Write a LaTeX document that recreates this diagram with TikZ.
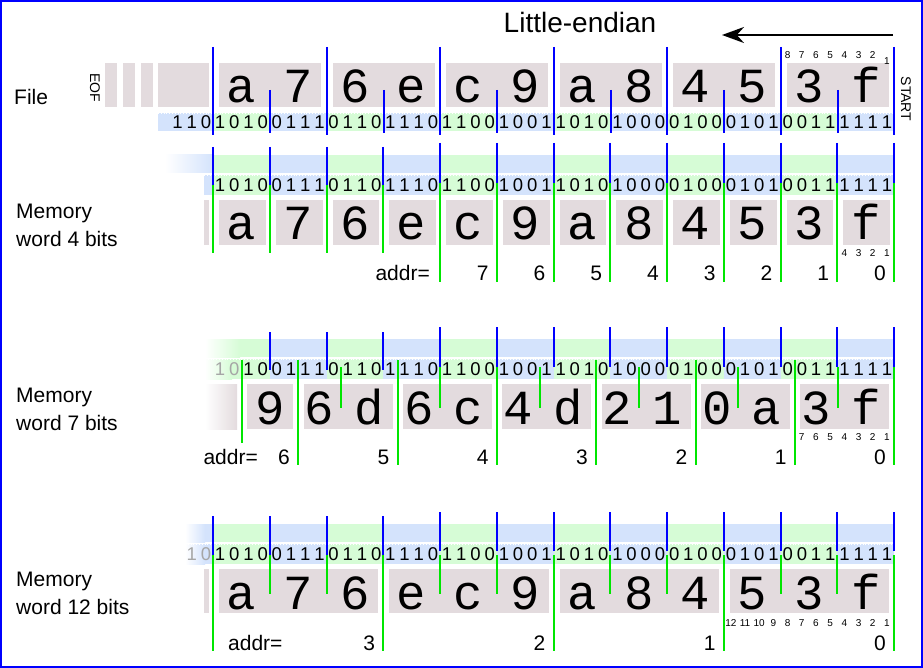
\documentclass[tikz,border=0pt]{standalone}
\usepackage{fontspec}
\setmainfont{Liberation Sans}
\newfontfamily\hexfont{Liberation Mono}
\usetikzlibrary{arrows.meta}

\definecolor{bitblue}{RGB}{212,227,252}
\definecolor{bitgreen}{RGB}{214,252,214}
\definecolor{boxgrey}{RGB}{227,219,222}
\definecolor{linblue}{RGB}{0,0,255}
\definecolor{lingreen}{RGB}{0,230,0}

\def\bitlist{1,0,1,0,0,1,1,1,0,1,1,0,1,1,1,0,1,1,0,0,1,0,0,1,1,0,1,0,1,0,0,0,0,1,0,0,0,1,0,1,0,0,1,1,1,1,1,1}
\def\hexlist{a,7,6,e,c,9,a,8,4,5,3,f}

\tikzset{
  hexdigit/.style={font=\hexfont\fontsize{49}{49}\selectfont, anchor=base, inner sep=0pt},
  bitnum/.style={font=\fontsize{18.5}{18.5}\selectfont, inner sep=0pt},
  smallnum/.style={font=\fontsize{10}{10}\selectfont, inner sep=0pt},
  rowlabel/.style={font=\fontsize{21}{28}\selectfont, align=left, anchor=west, inner sep=0pt},
  addrtext/.style={font=\fontsize{21}{21}\selectfont, inner sep=0pt},
  byteline/.style={linblue, line width=2pt},
  memline/.style={lingreen, line width=2pt}
}

% nibble coloured strips of a memory row
\newcommand{\memstrips}[1]{%
  \foreach \n in {0,...,11}{%
    \ifodd\n\relax\def\nc{bitblue}\else\def\nc{bitgreen}\fi
    \fill[\nc] ({213+56.76*\n},#1) rectangle ({213+56.76*(\n+1)},#1+18);
    \fill[\nc] ({213+56.76*\n},#1+20) rectangle ({213+56.76*(\n+1)},#1+40);
  }%
}
% the bits of a row, the first #2 ones greyed
\newcommand{\membits}[3]{%
  \foreach \b [count=\i from 0] in \bitlist{%
    \ifnum\i<#2\relax\def\bc{black!35}\else\def\bc{black}\fi
    \node[bitnum, text=\bc] (#3\i) at ({213+14.19*(\i+0.5)},#1) {\b};
  }%
}

\begin{document}
\begin{tikzpicture}[x=1pt,y=-1pt]
  \useasboundingbox (0,0) rectangle (923,668);
  \draw[linblue, line width=2pt] (1,1) rectangle (922,667);

  % title
  \node[font=\fontsize{28}{28}\selectfont] (title) at (580,22) {Little-endian};
  \coordinate (arrS) at (893,35);
  \coordinate (arrE) at (722,35);
  \draw[-{Stealth[length=22pt,width=16pt]}, line width=1.8pt] (arrS) -- (arrE);

  % file
  \node[rowlabel] (lblfile) at (14,97) {File};
  \node[rotate=-90, font=\fontsize{14}{14}\selectfont, inner sep=0pt] (eof) at (95,88) {EOF};
  \node[rotate=-90, font=\fontsize{14}{14}\selectfont, inner sep=0pt] (start) at (906,99) {START};
  \foreach \xa/\xb in {105/117,123/135,141/153,158/209}
    \fill[boxgrey] (\xa,63) rectangle (\xb,107);
  \foreach \k in {0,...,5}
    \fill[boxgrey] ({213+113.5*\k+6},63) rectangle ({213+113.5*\k+108},107);
  \fill[bitblue] (158,113) rectangle (213,131);
  \foreach \n in {0,...,11}{
    \ifodd\n\relax\def\nc{bitblue}\else\def\nc{bitgreen}\fi
    \fill[\nc] ({213+56.76*\n},113) rectangle ({213+56.76*(\n+1)},131);
  }
  \draw[white, dotted, line width=0.8pt] (158,113) -- (894,113);
  \foreach \b [count=\i from 1] in {0,1,1}
    \node[bitnum] (fx\i) at ({213-14.19*(\i-0.5)},122) {\b};
  \foreach \b [count=\i from 0] in \bitlist
    \node[bitnum] (fb\i) at ({213+14.19*(\i+0.5)},122) {\b};
  \foreach \h [count=\n from 0] in \hexlist
    \node[hexdigit] (fh\n) at ({213+56.76*(\n+0.5)},103) {\h};
  \foreach \k in {0,...,6}
    \draw[byteline] ({213+113.5*\k},47) -- ({213+113.5*\k},135);
  \foreach \k in {0,...,5}
    \draw[byteline] ({270+113.5*\k},90) -- ({270+113.5*\k},133);
  \foreach \j in {2,...,8}
    \node[smallnum] (ft\j) at ({894-14.19*(\j-0.5)},55) {\j};
  \node[smallnum] (ft1) at (887,61) {1};

  % memory word 4 bits
  \node[rowlabel] (lblm4) at (16,225) {Memory\\word 4 bits};
  \shade[left color=white, right color=bitblue] (165,155) rectangle (213,173);
  \fill[bitblue] (204,175) rectangle (213,195);
  \memstrips{155}
  \draw[white, dotted, line width=0.8pt] (204,175) -- (894,175);
  \membits{185}{0}{mfb}
  \fill[boxgrey] (204,200) rectangle (209,245);
  \foreach \n in {0,...,11}
    \fill[boxgrey] ({213+56.76*\n+6},200) rectangle ({213+56.76*(\n+1)-4},245);
  \foreach \h [count=\n from 0] in \hexlist
    \node[hexdigit] (mfh\n) at ({213+56.76*(\n+0.5)},240) {\h};
  \foreach \n in {0,...,3}{
    \draw[memline] ({213+56.76*\n},185) -- ({213+56.76*\n},253);
    \draw[byteline] ({213+56.76*\n},147) -- ({213+56.76*\n},185);
  }
  \foreach \n in {4,...,12}{
    \draw[memline] ({213+56.76*\n},183) -- ({213+56.76*\n},282);
    \draw[byteline] ({213+56.76*\n},143) -- ({213+56.76*\n},183);
  }
  \foreach \j in {1,...,4}
    \node[smallnum] (mft\j) at ({894-14.19*(\j-0.5)},253) {\j};
  \node[addrtext, anchor=east] (mfaddr) at (430,273) {addr=};
  \foreach \w in {0,...,7}
    \node[addrtext] (mfa\w) at ({880-56.76*\w},273) {\w};

  % memory word 7 bits
  \node[rowlabel] (lblm7) at (16,409) {Memory\\word 7 bits};
  \memstrips{339}
  \shade[left color=white, right color=bitgreen] (205,339) rectangle (240,357);
  \shade[left color=white, right color=bitgreen] (205,359) rectangle (232,379);
  \draw[white, dotted, line width=0.8pt] (205,359) -- (894,359);
  \membits{369}{2}{msb}
  \shade[left color=white, right color=boxgrey] (205,384) rectangle (237,429);
  \fill[boxgrey] (247,384) rectangle (293,429);
  \foreach \j in {0,...,5}
    \fill[boxgrey] ({298.33+99.33*\j+5.5},384) rectangle ({298.33+99.33*(\j+1)-5},429);
  \node[hexdigit] (msh6) at (270,424) {9};
  \foreach \hi/\lo [count=\j from 0] in {6/d,6/c,4/d,2/1,0/a,3/f}{
    \node[hexdigit] (mshi\j) at ({298.33+99.33*\j+21.3},424) {\hi};
    \node[hexdigit] (mslo\j) at ({298.33+99.33*\j+71},424) {\lo};
  }
  \draw[memline] (241.5,360) -- (241.5,443);
  \foreach \j in {0,...,6}
    \draw[memline] ({298.33+99.33*\j},360) -- ({298.33+99.33*\j},465);
  \foreach \j in {0,...,5}
    \draw[memline] ({340.9+99.33*\j},367) -- ({340.9+99.33*\j},408);
  \foreach \n in {1,...,3}
    \draw[byteline] ({213+56.76*\n},332) -- ({213+56.76*\n},370);
  \foreach \n in {4,...,12}
    \draw[byteline] ({213+56.76*\n},327) -- ({213+56.76*\n},367);
  \foreach \j in {1,...,7}
    \node[smallnum] (mst\j) at ({894-14.19*(\j-0.5)},437) {\j};
  \node[addrtext, anchor=east] (msaddr) at (258,457) {addr=};
  \foreach \w in {0,...,6}
    \node[addrtext] (msa\w) at ({880-99.33*\w},457) {\w};

  % memory word 12 bits
  \node[rowlabel] (lblm12) at (16,593) {Memory\\word 12 bits};
  \memstrips{524}
  \shade[left color=white, right color=bitblue] (185,524) rectangle (205,542);
  \fill[bitblue] (205,524) rectangle (213,542);
  \shade[left color=white, right color=bitblue] (185,544) rectangle (205,564);
  \fill[bitblue] (205,544) rectangle (213,564);
  \draw[white, dotted, line width=0.8pt] (185,544) -- (894,544);
  \node[bitnum, text=black!35] (mtx1) at (191.7,554) {1};
  \node[bitnum, text=black!35] (mtx0) at (205.9,554) {0};
  \membits{554}{0}{mtb}
  \fill[boxgrey] (204,569) rectangle (209,613);
  \foreach \j in {0,...,3}
    \fill[boxgrey] ({213+170.28*\j+6},569) rectangle ({213+170.28*(\j+1)-5},613);
  \foreach \h [count=\n from 0] in \hexlist
    \node[hexdigit] (mth\n) at ({213+56.76*(\n+0.5)},609) {\h};
  \foreach \j in {0,...,4}
    \draw[memline] ({213+170.28*\j},555) -- ({213+170.28*\j},651);
  \foreach \n in {1,2,4,5,7,8,10,11}
    \draw[memline] ({213+56.76*\n},555) -- ({213+56.76*\n},594);
  \foreach \n in {0,...,3}
    \draw[byteline] ({213+56.76*\n},516) -- ({213+56.76*\n},555);
  \foreach \n in {4,...,12}
    \draw[byteline] ({213+56.76*\n},512) -- ({213+56.76*\n},551);
  \foreach \j in {1,...,12}
    \node[smallnum] (mtt\j) at ({894-14.19*(\j-0.5)},623) {\j};
  \node[addrtext, anchor=west] (mtaddr) at (228,643) {addr=};
  \foreach \w in {0,...,3}
    \node[addrtext] (mta\w) at ({880-170.28*\w},643) {\w};
\end{tikzpicture}
\end{document}
